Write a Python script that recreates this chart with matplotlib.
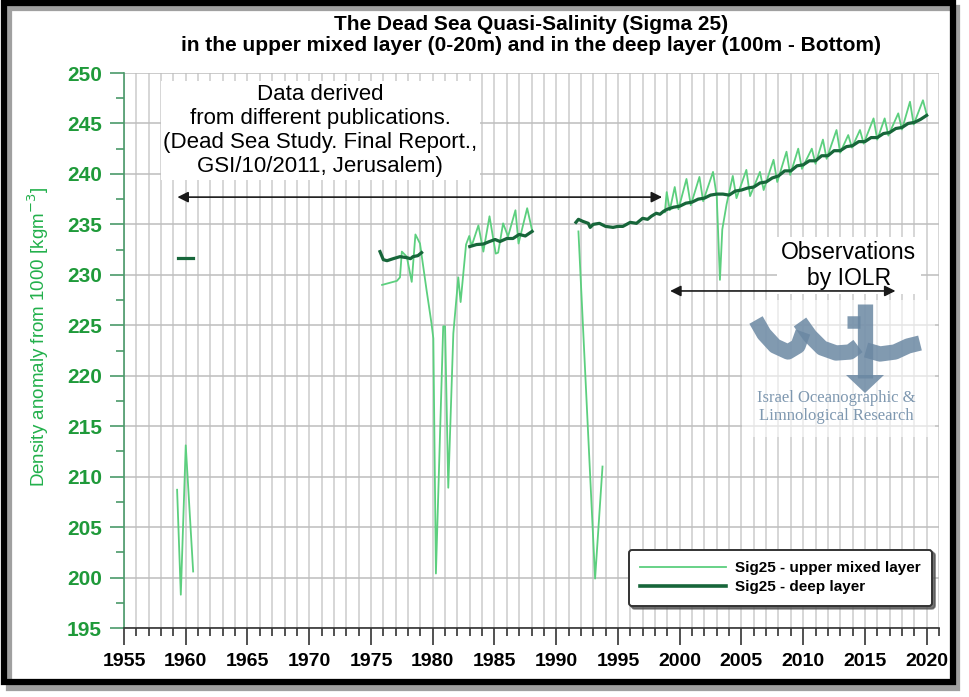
import numpy as np
import matplotlib
matplotlib.use("Agg")
import matplotlib.pyplot as plt
from matplotlib.ticker import MultipleLocator
from matplotlib.patches import Rectangle, Polygon
from matplotlib.lines import Line2D

plt.rcParams['font.family'] = ['Liberation Sans', 'DejaVu Sans']

# ---- data ----
# upper mixed layer (0-20 m), light green
upper_6x_years = [1959.3, 1959.6, 1960.0, 1960.6]
upper_6x_vals = [208.7, 198.3, 213.1, 200.6]

upper_7x_years = [1975.9, 1976.5, 1977.1, 1977.35, 1977.5, 1977.9, 1978.3, 1978.6, 1978.97,
                  1979.5, 1979.9, 1980.05, 1980.26, 1980.85, 1981.0, 1981.26, 1981.67, 1982.07,
                  1982.26, 1982.7, 1982.96, 1983.15, 1983.7, 1984.1, 1984.6, 1985.1, 1985.3,
                  1985.7, 1986.1, 1986.7, 1986.95, 1987.65, 1988.05]
upper_7x_vals = [229.0, 229.2, 229.4, 229.75, 232.3, 231.8, 229.3, 234.0, 233.1,
                 228.5, 225.2, 223.7, 200.4, 224.9, 224.9, 208.9, 224.2, 229.75,
                 227.3, 233.0, 233.85, 232.85, 234.9, 232.3, 235.8, 232.1, 232.2,
                 235.1, 233.8, 236.4, 233.1, 236.6, 234.4]

upper_9x_years = [1991.8, 1993.15, 1993.75]
upper_9x_vals = [234.3, 199.9, 211.0]

upper_iolr_years = [1998.8, 1998.95, 1999.2, 1999.6, 1999.9, 2000.55, 2000.9, 2001.6, 2001.9,
                    2002.7, 2003.0, 2003.26, 2003.45, 2003.8, 2004.3, 2004.6, 2005.4, 2005.7,
                    2006.5, 2006.8, 2007.6, 2007.9, 2008.65, 2008.95, 2009.6, 2009.9, 2010.7,
                    2011.0, 2011.6, 2011.9, 2012.7, 2013.0, 2013.65, 2013.95, 2014.6, 2014.9,
                    2015.7, 2016.0, 2016.6, 2016.9, 2017.7, 2018.0, 2018.65, 2018.95, 2019.7,
                    2020.0]
upper_iolr_vals = [236.2, 238.2, 236.4, 238.7, 236.5, 239.5, 236.9, 239.7, 237.3,
                   240.2, 237.8, 229.5, 234.5, 237.0, 239.8, 237.6, 240.4, 237.8,
                   240.2, 238.4, 241.4, 239.2, 242.2, 239.9, 242.5, 240.5, 242.5,
                   241.0, 243.4, 241.5, 244.35, 242.1, 243.85, 242.6, 244.35, 243.0,
                   245.5, 243.4, 245.5, 243.8, 246.0, 244.4, 247.15, 244.9, 247.3,
                   245.9]

# deep layer (100 m - bottom), dark green
deep_6x_years = [1959.4, 1960.55]
deep_6x_vals = [231.7, 231.7]

deep_7x_years = [1975.73, 1976.0, 1976.3, 1976.8, 1977.35, 1977.9, 1978.2, 1978.4, 1978.8, 1979.1]
deep_7x_vals = [232.3, 231.5, 231.4, 231.6, 231.8, 231.7, 231.6, 231.8, 231.9, 232.2]

deep_8x_years = [1983.0, 1983.55, 1984.1, 1984.6, 1985.05, 1985.45, 1986.0, 1986.5, 1987.0,
                 1987.5, 1988.05]
deep_8x_vals = [232.8, 233.0, 233.05, 233.3, 233.5, 233.3, 233.6, 233.6, 234.0, 233.85, 234.3]

deep_9x_years = [1991.6, 1991.8, 1992.15, 1992.6, 1992.75, 1993.0, 1993.5, 1994.0, 1994.6,
                 1995.0, 1995.4, 1996.0, 1996.5, 1997.0, 1997.4, 1997.7, 1998.1, 1998.4,
                 1998.7, 1999.0, 1999.5, 2000.0, 2000.5, 2001.0, 2001.5, 2002.0, 2002.5,
                 2003.0, 2003.5, 2004.0, 2004.5, 2005.0, 2005.5, 2006.0, 2006.5, 2007.0,
                 2007.5, 2008.0, 2008.5, 2009.0, 2009.5, 2010.0, 2010.5, 2011.0, 2011.5,
                 2012.0, 2012.5, 2013.0, 2013.5, 2014.0, 2014.5, 2015.0, 2015.5, 2016.0,
                 2016.5, 2017.0, 2017.5, 2018.0, 2018.5, 2019.0, 2019.5, 2020.0]
deep_9x_vals = [235.2, 235.5, 235.3, 235.1, 234.7, 235.0, 235.1, 234.8, 234.7,
                234.8, 234.8, 235.2, 235.1, 235.6, 235.5, 235.8, 236.1, 236.0,
                236.3, 236.5, 236.7, 236.8, 237.1, 237.2, 237.5, 237.6, 237.9,
                238.0, 238.0, 237.9, 238.3, 238.4, 238.6, 238.7, 239.1, 239.2,
                239.6, 239.8, 240.3, 240.3, 240.8, 240.9, 241.3, 241.3, 241.8,
                241.8, 242.3, 242.3, 242.7, 242.8, 243.2, 243.2, 243.6, 243.6,
                244.0, 244.1, 244.5, 244.6, 245.0, 245.1, 245.4, 245.8]

light_green = '#5ccf7e'
dark_green = '#17663a'

fig = plt.figure(figsize=(9.7, 6.97), dpi=100)
W, H = 970.0, 697.0
ax = fig.add_axes([124 / W, 1 - 628 / H, (939 - 124) / W, (628 - 73) / H])

# light segments
for xs, ys in [(upper_6x_years, upper_6x_vals), (upper_7x_years, upper_7x_vals),
               (upper_9x_years, upper_9x_vals), (upper_iolr_years, upper_iolr_vals)]:
    ax.plot(xs, ys, color=light_green, lw=1.3, zorder=3)
# dark segments
for xs, ys in [(deep_6x_years, deep_6x_vals), (deep_7x_years, deep_7x_vals),
               (deep_8x_years, deep_8x_vals), (deep_9x_years, deep_9x_vals)]:
    ax.plot(xs, ys, color=dark_green, lw=2.3, zorder=4)

ax.set_xlim(1955, 2021)
ax.set_ylim(195, 250)
ax.xaxis.set_major_locator(MultipleLocator(5))
ax.xaxis.set_minor_locator(MultipleLocator(1))
ax.yaxis.set_major_locator(MultipleLocator(5))
ax.yaxis.set_minor_locator(MultipleLocator(2.5))
ax.grid(which='both', axis='x', color='#cccccc', lw=1.1, zorder=0)
ax.grid(which='major', axis='y', color='#bdbdbd', lw=1.1, zorder=0)
ax.set_axisbelow(True)

for s in ['top', 'right']:
    ax.spines[s].set_visible(False)
ax.spines['left'].set_color('#4a9a6a')
ax.spines['left'].set_linewidth(1.2)
ax.spines['bottom'].set_color('#333333')
ax.spines['bottom'].set_linewidth(1.2)

ax.tick_params(axis='y', which='major', length=10, width=1.2, color='#4a9a6a', pad=6,
               labelsize=15, labelcolor='#1f9a3a')
ax.tick_params(axis='y', which='minor', length=6, width=1.2, color='#4a9a6a')
ax.tick_params(axis='x', which='major', length=12, width=1.2, color='#333333', pad=6,
               labelsize=14)
ax.tick_params(axis='x', which='minor', length=6, width=1.2, color='#333333')
for lab in ax.get_xticklabels() + ax.get_yticklabels():
    lab.set_fontweight('bold')

ax.set_ylabel('Density anomaly from 1000 [kgm$^{-3}$]', color='#22b04b', fontsize=13.5)
ax.yaxis.set_label_coords(-0.09, 0.525)

fig.text(531 / W, 1 - 35 / H,
         'The Dead Sea Quasi-Salinity (Sigma 25)\n'
         'in the upper mixed layer (0-20m) and in the deep layer (100m - Bottom)',
         ha='center', va='center', fontsize=15, fontweight='bold', linespacing=1.15)

# annotations
ax.text(1970.9, 244.3, 'Data derived\nfrom different publications.\n'
        '(Dead Sea Study. Final Report.,\nGSI/10/2011, Jerusalem)',
        ha='center', va='center', fontsize=16, linespacing=1.2, zorder=5,
        bbox=dict(facecolor='white', edgecolor='none', pad=2))
ax.annotate('', xy=(1959.1, 237.7), xytext=(1998.8, 237.7),
            arrowprops=dict(arrowstyle='<|-|>', color='#1a1a1a', lw=1.2, mutation_scale=16),
            zorder=5)
ax.text(2013.7, 230.9, 'Observations\nby IOLR', ha='center', va='center', fontsize=16.5,
        linespacing=1.15, zorder=5,
        bbox=dict(facecolor='white', edgecolor='none', pad=3))
ax.annotate('', xy=(1999.0, 228.4), xytext=(2017.7, 228.4),
            arrowprops=dict(arrowstyle='<|-|>', color='#1a1a1a', lw=1.2, mutation_scale=16),
            zorder=5)


# IOLR logo (rough sketch), placed in pixel-derived axes coordinates
def pa(px, py):
    return ((px - 124) / 815.0, (628 - py) / 555.0)


ax.add_patch(Rectangle(pa(742, 437), 193 / 815.0, 137 / 555.0, transform=ax.transAxes,
                       facecolor='white', edgecolor='none', alpha=0.6, zorder=5))
logo_c = '#6b88a3'
for pts in [[(756, 320), (764, 334), (775, 346), (788, 352), (798, 346), (803, 332)],
            [(800, 322), (810, 336), (822, 348), (836, 353), (850, 352), (858, 346)],
            [(866, 350), (880, 354), (895, 352), (908, 346), (920, 343)]]:
    xy = np.array([pa(*p) for p in pts])
    ax.plot(xy[:, 0], xy[:, 1], transform=ax.transAxes, color=logo_c, lw=11,
            solid_capstyle='butt', alpha=0.85, zorder=6)
xy = np.array([pa(865, 304), pa(865, 378)])
ax.plot(xy[:, 0], xy[:, 1], transform=ax.transAxes, color=logo_c, lw=11,
        solid_capstyle='butt', alpha=0.85, zorder=6)
xy = np.array([pa(847, 322), pa(860, 322)])
ax.plot(xy[:, 0], xy[:, 1], transform=ax.transAxes, color=logo_c, lw=9,
        solid_capstyle='butt', alpha=0.85, zorder=6)
ax.add_patch(Polygon([pa(846, 375), pa(884, 375), pa(865, 393)], closed=True,
                     transform=ax.transAxes, facecolor=logo_c, edgecolor='none',
                     alpha=0.85, zorder=6))
lx, ly = pa(836, 407)
ax.text(lx, ly, 'Israel Oceanographic &\nLimnological Research', transform=ax.transAxes,
        ha='center', va='center', fontsize=12, color='#7f98b0', linespacing=1.1,
        family=['Liberation Serif', 'DejaVu Serif'], zorder=6)

# legend
handles = [Line2D([], [], color=light_green, lw=1.3),
           Line2D([], [], color=dark_green, lw=2.6)]
leg = ax.legend(handles, ['Sig25 - upper mixed layer', 'Sig25 - deep layer'],
                loc='upper left', bbox_to_anchor=(0.61, 0.155), frameon=True,
                fancybox=True, shadow={'color': '#555555', 'alpha': 0.8},
                framealpha=1, edgecolor='#333333', handlelength=5.6,
                prop={'weight': 'bold', 'size': 11}, labelspacing=0.35,
                borderpad=0.75, handletextpad=0.6)
leg.get_frame().set_linewidth(1.4)
leg.set_zorder(7)

# figure frame with shadow
fig.patches.append(Rectangle((9 / W, 1 - 688 / H), (957 - 9) / W, (688 - 8) / H,
                             transform=fig.transFigure, fill=False,
                             edgecolor='#a0a0a0', lw=4.5, zorder=0))
fig.patches.append(Rectangle((4 / W, 1 - 682 / H), (953 - 4) / W, (682 - 3) / H,
                             transform=fig.transFigure, fill=False,
                             edgecolor='black', lw=4.5, zorder=1))

fig.savefig('out.png', dpi=100, facecolor='white')
